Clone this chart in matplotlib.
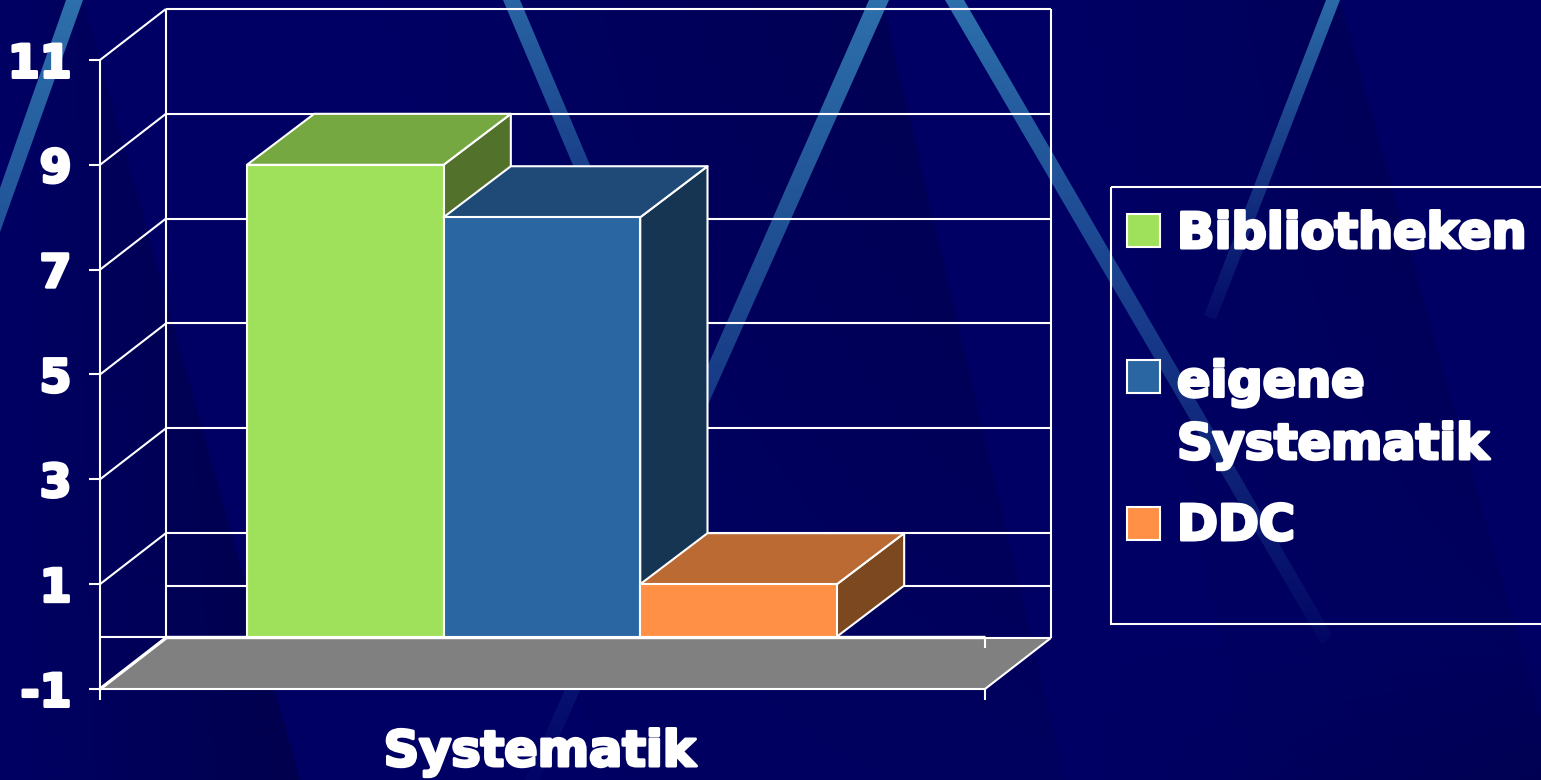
import numpy as np
import matplotlib
matplotlib.use('Agg')
import matplotlib.pyplot as plt
import matplotlib.patheffects as pe
from matplotlib.patches import Polygon, Rectangle

W, H = 1541, 780

# chart data
series = ['Bibliotheken', 'eigene\nSystematik', 'DDC']
values = [9, 8, 1]
category = 'Systematik'
y_ticks = [-1, 1, 3, 5, 7, 9, 11]

front_colors = ['#a0e15b', '#2a66a2', '#ff9046']
top_colors = ['#76a842', '#1f4a78', '#bb6a33']
side_colors = ['#52722c', '#153552', '#7c4820']

NAVY = '#000064'
WHITE = '#ffffff'
LW = 1.5
FONT = dict(family='DejaVu Sans', fontweight='bold')
FAT = [pe.withStroke(linewidth=2.2, foreground=WHITE)]

plt.rcParams['axes.unicode_minus'] = False

fig = plt.figure(figsize=(W / 100, H / 100), dpi=100, facecolor=NAVY)

# slide background, pixel coordinates
bg = fig.add_axes([0, 0, 1, 1], zorder=0)
bg.set_axis_off()


def shade(poly, color, a0, a1, horizontal=False, v0=1.0, v1=1.0):
    poly = np.array(poly, dtype=float)
    x0, x1 = poly[:, 0].min(), poly[:, 0].max()
    y0, y1 = poly[:, 1].min(), poly[:, 1].max()
    img = np.ones((128, 128, 4))
    img[..., :3] = matplotlib.colors.to_rgb(color)
    ramp = np.linspace(a0, a1, 128)
    fade = np.linspace(v0, v1, 128)
    if horizontal:
        img[..., 3] = np.outer(fade, ramp)
    else:
        img[..., 3] = np.outer(ramp, np.ones(128))
    im = bg.imshow(img, extent=(x0, x1, y1, y0), aspect='auto', origin='upper', interpolation='bilinear')
    clip = Polygon(poly, closed=True, transform=bg.transData, fc='none', ec='none')
    bg.add_patch(clip)
    im.set_clip_path(clip)


# darker wedges, fading out to the left and towards the bottom
DARK = '#00003c'
shade([(0, 0), (83, 0), (300, 780), (0, 780)], DARK, 0.0, 0.7, True, 1.0, 0.8)
shade([(382, 0), (882, 0), (1065, 780), (600, 780)], DARK, 0.0, 0.55, True, 1.0, 0.25)
shade([(1085, 0), (1340, 0), (1541, 720), (1541, 780), (1250, 780)], DARK, 0.0, 0.5, True, 1.0, 0.2)
shade([(1100, 640), (1541, 640), (1541, 780), (1100, 780)], DARK, 0.0, 0.35, True, 0.0, 1.0)

# light stripes, fading downwards
STRIPE = '#2d70ac'
shade([(66, 0), (83, 0), (0, 232), (0, 188)], STRIPE, 1.0, 0.75)
shade([(503, 0), (520, 0), (660, 330), (645, 335)], STRIPE, 0.9, 0.25)
shade([(869, 0), (889, 0), (540, 780), (525, 780)], STRIPE, 1.0, 0.05)
shade([(945, 0), (964, 0), (1332, 635), (1322, 645)], STRIPE, 1.0, 0.06)
shade([(1326, 0), (1340, 0), (1216, 320), (1204, 315)], STRIPE, 0.95, 0.1)

bg.set_xlim(0, W)
bg.set_ylim(H, 0)

# chart axes: front plane of the 3D box
XMAX = 4.5
YMIN, YMAX = -1, 11
ax = fig.add_axes([100 / W, 1 - 689 / H, 885 / W, 629 / H], zorder=1)
ax.patch.set_alpha(0)
ax.set_xlim(0, XMAX)
ax.set_ylim(YMIN, YMAX)

# depth of the box in data units
DX = 0.335
DY = 0.973
BAR_DX = 0.342
line = dict(color=WHITE, lw=LW, clip_on=False, solid_capstyle='butt')

# floor
ax.add_patch(Polygon([(0, YMIN), (XMAX, YMIN), (XMAX + DX, YMIN + DY), (DX, YMIN + DY)],
                     closed=True, fc='#808080', ec='none', clip_on=False, zorder=1))
ax.plot([0, DX], [YMIN, YMIN + DY], color=WHITE, lw=2.4, clip_on=False, zorder=2)
ax.plot([XMAX, XMAX + DX], [YMIN, YMIN + DY], zorder=2, **line)

# back wall and side wall grid
for v in y_ticks:
    ax.plot([DX, XMAX + DX], [v + DY, v + DY], zorder=2, **line)
    if v != YMIN:
        ax.plot([0, DX], [v, v + DY], zorder=2, **line)
ax.plot([DX, XMAX + DX], [DY, DY], zorder=2, **line)
ax.plot([DX, DX], [YMIN + DY, YMAX + DY], zorder=2, **line)
ax.plot([XMAX + DX, XMAX + DX], [YMIN + DY, YMAX + DY], zorder=2, **line)

# zero line along the floor edge
ax.plot([0, XMAX], [0, 0], color=WHITE, lw=LW, clip_on=False, zorder=2, solid_capstyle='butt')
ax.plot([DX, XMAX], [0, 0], color=WHITE, lw=2.4, clip_on=False, zorder=2, solid_capstyle='butt')
ax.plot([XMAX, XMAX], [0, -0.21], zorder=2, **line)

# bars, painted left to right
bar_x = [0.747 + i for i in range(len(values))]
edge = dict(ec=WHITE, lw=LW, clip_on=False, joinstyle='round')
for i, (x, v) in enumerate(zip(bar_x, values)):
    z = 3 + i
    ax.add_patch(Polygon([(x + 1, 0), (x + 1 + BAR_DX, DY), (x + 1 + BAR_DX, v + DY), (x + 1, v)],
                         closed=True, fc=side_colors[i], zorder=z, **edge))
    ax.add_patch(Polygon([(x, v), (x + 1, v), (x + 1 + BAR_DX, v + DY), (x + BAR_DX, v + DY)],
                         closed=True, fc=top_colors[i], zorder=z, **edge))
    ax.add_patch(Polygon([(x, 0), (x + 1, 0), (x + 1, v), (x, v)],
                         closed=True, fc=front_colors[i], zorder=z, **edge))

# axes
for s in ['top', 'right']:
    ax.spines[s].set_visible(False)
for s in ['left', 'bottom']:
    ax.spines[s].set_color(WHITE)
    ax.spines[s].set_linewidth(LW)
ax.spines['left'].set_zorder(2)
ax.set_yticks(y_ticks)
ax.set_xticks([0, XMAX])
ax.set_xticklabels(['', ''])
ax.tick_params(axis='both', color=WHITE, width=LW, length=8)
ax.tick_params(axis='y', pad=12.5)
for t in ax.get_yticklabels():
    t.set(color=WHITE, fontsize=33, path_effects=FAT, **FONT)
ax.set_xlabel(category, color=WHITE, fontsize=35.5, path_effects=FAT, labelpad=18, **FONT)
ax.xaxis.set_label_coords(0.4965, -0.062, transform=ax.transAxes)
ax.xaxis.label.set_va('top')

# legend, pixel coordinates
ov = fig.add_axes([0, 0, 1, 1], zorder=2)
ov.set_axis_off()
ov.patch.set_alpha(0)
ov.set_xlim(0, W)
ov.set_ylim(H, 0)
ov.add_patch(Rectangle((1111, 187), 440, 437, fc='none', ec=WHITE, lw=LW))
swatch_y = [214, 360, 507]
baseline_y = [248, 459, 540]
for i, label in enumerate(series):
    ov.add_patch(Rectangle((1127.5, swatch_y[i]), 32.5, 32.5, fc=front_colors[i], ec=WHITE, lw=LW))
    ov.text(1177, baseline_y[i], label, color=WHITE, fontsize=35.5, va='baseline', ha='left',
            path_effects=FAT, linespacing=1.38, **FONT)

fig.savefig('out.png', dpi=100, facecolor=NAVY)
